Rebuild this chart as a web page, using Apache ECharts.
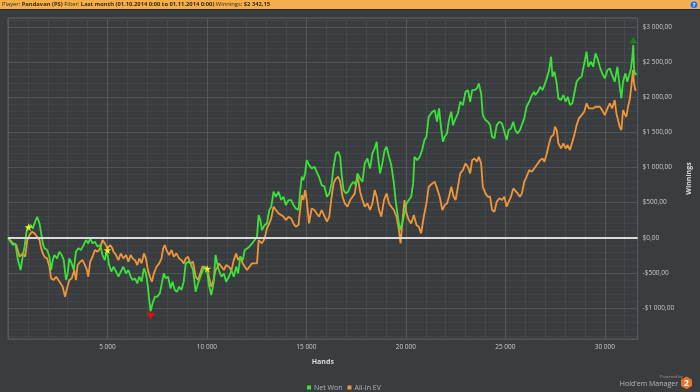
<!DOCTYPE html>
<html>
<head>
<meta charset="utf-8">
<script src="https://cdn.jsdelivr.net/npm/echarts@6/dist/echarts.min.js"></script>
<style>
html,body{margin:0;padding:0;background:#3a3d40;}
#chart{width:700px;height:392px;}
</style>
</head>
<body>
<div id="chart"></div>
<script>
// ---- data ----
const seriesNames = ['Net Won', 'All-In EV'];
const xTickLabels = ['5 000', '10 000', '15 000', '20 000', '25 000', '30 000'];
const yTickValues = [-1000, -500, 0, 500, 1000, 1500, 2000, 2500, 3000];

const netWonHands = [0,83,250,367,500,633,750,833,917,1000,1133,1250,1333,1467,1583,1667,1750,1833,1967,2083,2167,2250,2333,2467,2583,2700,2800,2917,3000,3083,3200,3300,3417,3533,3667,3800,3917,4033,4133,4250,4367,4500,4633,4750,4867,4967,5083,5200,
5300,5433,5550,5667,5800,5933,6050,6167,6267,6383,6500,6600,6717,6833,6933,7033,7100,7167,7267,7383,7500,7633,7767,7833,7933,8050,8167,8267,8383,8500,8600,8717,8833,8933,9050,9167,9300,9433,9550,9667,9767,9883,10000,10100,10217,10333,10433,10550,
10600,10733,10850,10967,11100,11233,11350,11467,11567,11683,11800,11900,12017,12133,12267,12400,12517,12600,12683,12767,12900,13017,13133,13233,13350,13467,13600,13733,13850,13967,14100,14233,14350,14467,14600,14683,14767,14850,14933,15017,15133,15267,15400,15517,15633,15767,
15900,16033,16150,16267,16367,16483,16600,16700,16767,16867,16983,17100,17233,17367,17483,17567,17700,17817,17933,18067,18200,18317,18433,18533,18600,18700,18817,18933,19033,19150,19267,19400,19483,19600,19700,19817,19933,20033,20150,20267,20367,20433,20567,20700,20817,20933,21033,21150,
21200,21333,21450,21567,21667,21783,21867,21950,22067,22167,22283,22367,22500,22617,22733,22867,23000,23117,23233,23333,23450,23567,23667,23783,23867,24000,24117,24233,24333,24450,24567,24700,24833,24950,25067,25167,25283,25400,25500,25617,25733,25833,25950,26067,26200,26333,26450,
26500,26633,26750,26867,26967,27083,27200,27300,27367,27467,27583,27667,27800,27917,28033,28133,28250,28367,28467,28583,28700,28833,28967,29083,29167,29300,29417,29533,29633,29750,29867,30000,30133,30250,30367,30500,30633,30750,30833,30917,31033,31133,31200,31300,31367,31433,31467,31533,31583];
const netWon = [0,-23,-104,-80,-317,-460,-246,-127,62,157,180,133,204,299,204,62,-80,-151,-175,-270,-459,-317,-246,-294,-199,-246,-317,-601,-507,-294,-365,-459,-199,-151,-175,-104,-33,-80,-9,-80,-56,-127,-104,-246,-317,-175,-388,-483,
-412,-483,-554,-483,-412,-507,-459,-554,-602,-578,-649,-554,-625,-436,-507,-696,-886,-1045,-934,-839,-839,-792,-602,-507,-578,-554,-720,-625,-744,-768,-696,-744,-625,-365,-341,-365,-459,-768,-649,-554,-483,-412,-459,-673,-815,-649,-246,-412,
-460,-555,-507,-626,-555,-460,-555,-412,-507,-270,-318,-175,-152,-128,-81,-33,14,322,251,109,180,204,394,441,654,583,654,536,583,465,536,536,465,417,394,654,867,820,915,1104,1033,986,1010,938,867,749,
730,583,631,773,1010,1199,1223,1152,915,678,631,655,749,796,749,915,844,796,1057,1128,986,1199,1270,1365,1152,915,1057,1247,1294,1152,1033,773,536,299,109,204,346,488,536,583,773,1152,1104,1152,1247,1389,1436,1721,
1697,1792,1815,1650,1839,1531,1365,1436,1484,1673,1792,1602,1697,1768,1934,1886,2076,2099,1934,2099,2099,2123,2194,2052,1744,1673,1650,1602,1436,1413,1602,1650,1626,1507,1389,1531,1555,1650,1531,1484,1531,1507,1697,1863,1934,2028,2076,
2029,2076,2147,2100,2171,2266,2384,2574,2289,2360,2195,1982,1958,2029,1934,2005,1887,1911,2052,2218,2266,2289,2479,2645,2432,2503,2432,2621,2550,2432,2337,2266,2384,2408,2313,2218,2432,2147,1982,2218,2337,2218,2289,2384,2526,2740,2408,2313,2342];

const allInHands = [0,83,250,417,583,750,867,967,1083,1200,1333,1467,1583,1667,1750,1833,1967,2083,2167,2300,2417,2533,2633,2750,2867,2967,3083,3200,3333,3417,3500,3633,3750,3867,3967,4033,4133,4250,4367,4500,4633,4750,4867,5000,5133,5250,
5300,5433,5550,5667,5800,5933,6050,6167,6267,6383,6500,6600,6717,6833,6933,7033,7133,7233,7333,7467,7600,7717,7800,7883,7967,8100,8217,8333,8467,8600,8717,8833,8933,9050,9167,9300,9433,9550,9667,9767,9883,10000,10100,10217,10333,10433,10550,
10600,10733,10850,10967,11100,11233,11350,11467,11567,11683,11800,11900,12017,12133,12267,12400,12517,12600,12683,12767,12900,13017,13133,13233,13350,13467,13600,13733,13850,13967,14100,14233,14350,14467,14600,14683,14767,14850,14933,15017,15133,15267,15400,15517,15633,15767,
15900,16033,16150,16267,16367,16483,16600,16700,16817,16933,17067,17200,17317,17433,17567,17700,17817,17933,18067,18200,18317,18433,18533,18650,18767,18900,19033,19150,19267,19400,19533,19650,19733,19833,19933,20033,20150,20267,20400,20533,20650,20767,20900,21033,21150,
21200,21333,21450,21567,21700,21833,21950,22067,22167,22283,22400,22500,22617,22733,22867,23000,23117,23233,23333,23450,23567,23667,23783,23867,24000,24117,24233,24333,24450,24567,24700,24833,24950,25067,25167,25283,25400,25500,25617,25733,25833,25950,26067,26200,26333,26450,
26500,26633,26750,26867,26967,27083,27200,27300,27417,27500,27583,27667,27800,27917,28033,28133,28250,28333,28467,28583,28700,28833,28967,29083,29200,29300,29417,29533,29633,29750,29867,30000,30133,30250,30367,30500,30583,30667,30750,30833,30917,30983,31083,31167,31250,31333,31417,31467,31533,31583];
const allInEV = [0,-23,-80,-104,-270,-222,-270,-33,38,86,62,14,-33,-151,-222,-270,-294,-412,-578,-601,-554,-601,-578,-696,-838,-720,-601,-578,-459,-601,-388,-341,-317,-388,-459,-554,-341,-270,-175,-199,-151,-33,-80,-151,-104,-151,
-199,-246,-318,-223,-294,-246,-341,-246,-294,-318,-389,-294,-365,-223,-294,-460,-555,-626,-507,-412,-365,-294,-151,-104,-175,-246,-175,-270,-223,-294,-318,-365,-294,-270,-365,-341,-555,-602,-507,-412,-412,-436,-460,-697,-602,-460,-412,
-365,-412,-460,-389,-412,-460,-318,-223,-318,-270,-365,-412,-460,-412,-365,-365,-365,-33,-57,-81,-9,133,204,275,441,394,346,322,299,251,299,275,204,157,180,394,607,536,678,536,204,417,394,346,299,394,
310,228,299,583,773,844,867,796,583,488,441,536,583,631,891,655,536,441,488,394,488,678,583,394,299,536,631,488,441,394,299,109,-81,251,536,346,251,204,322,180,157,62,299,488,725,
725,773,796,702,583,394,465,488,583,725,583,536,725,915,962,1057,1010,915,1104,1128,1081,1152,1057,725,631,583,583,394,370,512,560,536,583,441,512,583,702,678,631,583,631,796,867,962,938,986,
1010,1057,1104,1128,1081,1199,1341,1436,1460,1578,1531,1341,1270,1341,1270,1318,1247,1223,1460,1602,1697,1744,1792,1910,1839,1815,1839,1863,1887,1863,1815,1744,1839,1910,1839,1958,1768,1673,1578,1531,1815,1768,1721,1863,1958,2147,2384,2195,2100,2100];

// points (hand, value) flagged with stars on the Net Won line
const starHands = [1033, 5000, 10017];
const starValues = [150, -175, -440];

// ---- helpers ----
function groupThousands(n) {
  return String(Math.round(Math.abs(n))).replace(/\B(?=(\d{3})+(?!\d))/g, ' ');
}
function money(v) {
  return (v < 0 ? '-' : '') + '$' + groupThousands(v) + ',00';
}
function zip(xs, ys) { return xs.map((x, i) => [x, ys[i]]); }

const FONT = 'Open Sans';
const STAR = 'path://M50,0 L61,35 L98,35 L68,57 L79,91 L50,70 L21,91 L32,57 L2,35 L39,35 Z';

const chart = echarts.init(document.getElementById('chart'), null, {renderer: 'canvas'});

const option = {
  backgroundColor: '#3a3d40',
  animation: false,
  textStyle: {fontFamily: FONT},
  grid: {left: 8, right: 59, top: 18, bottom: 53, show: true, borderColor: '#5c5f62', borderWidth: 1, backgroundColor: 'transparent'},
  legend: {
    data: seriesNames,
    left: 302, top: 379,
    icon: 'rect', itemWidth: 4, itemHeight: 4, itemGap: 5,
    textStyle: {color: '#b4b4b4', fontSize: 7, fontFamily: FONT, padding: [0, 0, 0, -2]}
  },
  xAxis: {
    type: 'value', min: 0, max: 31650, interval: 5000,
    name: 'Hands', nameLocation: 'middle', nameGap: 19,
    nameTextStyle: {color: '#d8d8d8', fontSize: 7, fontWeight: 'bold', fontFamily: FONT},
    axisLine: {show: false},
    axisTick: {show: true, length: 3, lineStyle: {color: '#5c5f62'}},
    minorTick: {show: true, splitNumber: 5, length: 3, lineStyle: {color: '#4e5154'}},
    axisLabel: {
      color: '#c8c8c8', fontSize: 6.5, fontFamily: FONT, margin: 5,
      showMinLabel: false, showMaxLabel: false,
      formatter: v => (v > 0 && v % 5000 === 0) ? xTickLabels[v / 5000 - 1] : ''
    },
    splitLine: {show: true, lineStyle: {color: '#56595c', width: 1}},
    minorSplitLine: {show: true, lineStyle: {color: '#46494c', width: 1}}
  },
  yAxis: {
    type: 'value', position: 'right', min: -1440, max: 3125, splitNumber: 9,
    name: 'Winnings', nameLocation: 'middle', nameGap: 44, nameRotate: 90,
    nameTextStyle: {color: '#d8d8d8', fontSize: 7, fontWeight: 'bold', fontFamily: FONT},
    axisLine: {show: false},
    axisTick: {show: true, length: 2, lineStyle: {color: '#5c5f62'}},
    minorTick: {show: false},
    axisLabel: {
      color: '#c8c8c8', fontSize: 6.5, fontFamily: FONT, margin: 5,
      showMinLabel: false, showMaxLabel: false,
      formatter: v => yTickValues.indexOf(v) >= 0 ? money(v) : ''
    },
    splitLine: {show: true, lineStyle: {color: '#505356', width: 1}},
    minorSplitLine: {show: true, lineStyle: {color: '#424548', width: 1}}
  },
  series: [
    {
      name: seriesNames[1], type: 'line', data: zip(allInHands, allInEV),
      showSymbol: false, symbol: 'none', z: 3,
      itemStyle: {color: '#f0963a'},
      lineStyle: {color: '#f0963a', width: 1.8}
    },
    {
      name: seriesNames[0], type: 'line', data: zip(netWonHands, netWon),
      showSymbol: false, symbol: 'none', z: 4,
      itemStyle: {color: '#3ae23a'},
      lineStyle: {color: '#3ae23a', width: 1.8},
      markLine: {
        silent: true, symbol: 'none', label: {show: false},
        lineStyle: {color: '#dadada', width: 2, type: 'solid'},
        data: [{yAxis: 0}]
      },
      markPoint: {
        silent: true, label: {show: false},
        data: [
          {type: 'min', symbol: 'triangle', symbolRotate: 180, symbolSize: [8, 7], symbolOffset: [0, 5], itemStyle: {color: '#e40b0b'}},
          {type: 'max', symbol: 'triangle', symbolSize: [8, 7], symbolOffset: [0, -5], itemStyle: {color: '#1d7d1d'}}
        ].concat(starHands.map((h, i) => ({
          coord: [h, starValues[i]], symbol: STAR, symbolSize: 8, symbolOffset: [0, 0],
          itemStyle: {color: '#f3e52a'}
        })))
      }
    }
  ],
  graphic: [
    {type: 'rect', shape: {x: 0, y: 0, width: 700, height: 9}, style: {fill: '#f4ae4b'}, z: 10},
    {type: 'rect', shape: {x: 0, y: 9, width: 700, height: 1}, style: {fill: '#2a2c2f'}, z: 10},
    {type: 'text', x: 2, y: 4.6, z: 11, style: {
      text: '{l|Player:} {v|Pandavan (PS)} {l|Filter:} {v|Last month (01.10.2014 0:00 to 01.11.2014 0:00)} {l|Winnings:} {v|$2 342,15}',
      verticalAlign: 'middle', fontFamily: FONT, fontSize: 5.8, fill: '#3b2a14',
      rich: {
        l: {fontFamily: FONT, fontSize: 5.8, color: '#4a3820'},
        v: {fontFamily: FONT, fontSize: 5.8, fontWeight: 'bold', color: '#2e200c'}
      }
    }},
    {type: 'circle', shape: {cx: 694, cy: 4.8, r: 3.8}, style: {fill: '#2c6cc0', stroke: '#cfe0f5', lineWidth: 0.5}, z: 11},
    {type: 'text', x: 694, y: 5, z: 12, style: {text: '?', fill: '#ffffff', fontSize: 5.5, fontWeight: 'bold', fontFamily: FONT, align: 'center', verticalAlign: 'middle'}},
    {type: 'text', x: 683, y: 377, z: 11, style: {text: 'Powered by', fill: '#9a9a9a', fontSize: 4.2, fontFamily: FONT, align: 'right', verticalAlign: 'middle'}},
    {type: 'text', x: 678, y: 384, z: 11, style: {text: "Hold'em Manager", fill: '#b8b8b8', fontSize: 7, fontFamily: FONT, align: 'right', verticalAlign: 'middle'}},
    {type: 'polygon', z: 11, shape: {points: [[686.5, 376.5], [692, 379.7], [692, 386.1], [686.5, 389.3], [681, 386.1], [681, 379.7]]}, style: {fill: '#e4742c'}},
    {type: 'text', x: 686.5, y: 383.2, z: 12, style: {text: '2', fill: '#ffffff', fontSize: 8.5, fontWeight: 'bold', fontFamily: FONT, align: 'center', verticalAlign: 'middle'}}
  ]
};
chart.setOption(option);
</script>
</body>
</html>
